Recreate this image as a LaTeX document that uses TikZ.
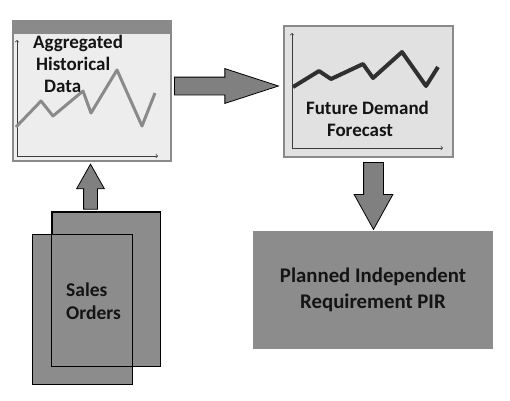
\documentclass[tikz,border=0pt]{standalone}
\usepackage{fontspec}
\setmainfont{Carlito}
\usetikzlibrary{shapes.arrows}
\definecolor{frame}{RGB}{138, 138, 138}
\definecolor{panelA}{RGB}{237, 237, 237}
\definecolor{panelB}{RGB}{225, 225, 225}
\definecolor{boxgray}{RGB}{140, 140, 140}
\definecolor{arrowgray}{RGB}{128, 128, 128}
\definecolor{trendA}{RGB}{138, 138, 138}
\definecolor{trendB}{RGB}{48, 48, 48}
\definecolor{axisgray}{RGB}{60, 60, 60}
\definecolor{ink}{RGB}{20, 20, 20}
\tikzset{
  panel/.style={rectangle, draw=frame, line width=2pt, inner sep=0pt},
  sheet/.style={rectangle, draw=black, fill=boxgray, line width=0.8pt, inner sep=0pt},
  blkarrow/.style={single arrow, draw=black, fill=arrowgray, line width=0.8pt, inner sep=0pt, text depth=0pt, single arrow head indent=0pt, pos=0, anchor=tail},
  chartaxis/.style={<->, color=axisgray, line width=0.7pt},
  boxtext/.style={font=\fontsize{19pt}{22pt}\selectfont\bfseries, text=ink, inner sep=0pt}
}
\begin{document}
\begin{tikzpicture}
\path [use as bounding box, fill=white] (0pt, 0pt) rectangle (510pt, -400pt);
% panels
\node (hist) [panel, fill=panelA, minimum width=158pt, minimum height=140pt] at (92.0pt, -91.0pt) {};
\fill [frame] (hist.north west) rectangle ([yshift=-14pt]hist.north east);
\node (fcst) [panel, fill=panelB, minimum width=169pt, minimum height=131pt] at (368.5pt, -91.5pt) {};
\node (pir) [rectangle, fill=boxgray, minimum width=240pt, minimum height=118pt, inner sep=0pt, align=center, font=\fontsize{20.8pt}{26pt}\selectfont\bfseries, text=ink] at (373.0pt, -290.0pt) {Planned Independent\\Requirement PIR};
\node (ord2) [sheet, minimum width=108pt, minimum height=154pt] at (106.0pt, -289.0pt) {};
\node (ord1) [sheet, minimum width=100pt, minimum height=150pt] at (82.0pt, -309.0pt) {};
\draw [line width=0.8pt] (ord2.south west) rectangle (ord2.north east);
% charts
\draw [chartaxis] (17.0pt, -40.0pt) -- (17.0pt, -156.0pt) -- (158.0pt, -156.0pt);
\draw [trendA, line width=3pt, line join=round] (16pt, -127pt) -- (41pt, -101pt) -- (53pt, -116pt) -- (83pt, -91pt) -- (91pt, -113pt) -- (117pt, -70pt) -- (142pt, -126pt) -- (155pt, -93pt);
\draw [chartaxis] (292.0pt, -33.0pt) -- (292.0pt, -148.0pt) -- (443.0pt, -148.0pt);
\draw [trendB, line width=4pt, line join=round] (293pt, -87pt) -- (319pt, -71pt) -- (331pt, -79pt) -- (363pt, -64pt) -- (373pt, -78pt) -- (402pt, -52pt) -- (426pt, -86pt) -- (438pt, -67pt);
% texts (base = last line)
\node (histtxt) [boxtext, anchor=base west, align=left] at (33.0pt, -92.5pt) {Aggregated\\\hspace*{3pt}Historical\\\hspace*{11pt}Data};
\node (fcsttxt) [boxtext, anchor=base, align=center] at (367.5pt, -136.5pt) {Future Demand\\\hspace*{-15pt}Forecast};
\node (ordtxt) [boxtext, anchor=base west, align=left, font=\fontsize{19.5pt}{23pt}\selectfont\bfseries] at (66.0pt, -319.0pt) {Sales\\Orders};
% block arrows
\path ([xshift=2pt, yshift=5pt]hist.east) -- ([yshift=5pt]fcst.west) node (tofcst) [blkarrow, text height=17pt, minimum height=104pt, single arrow head extend=8.5pt, single arrow tip angle=36] {};
\path ([xshift=5pt, yshift=-4pt]fcst.south) -- ([xshift=0.5pt]pir.north) node (topir) [blkarrow, rotate=-90, text height=19pt, minimum height=67pt, single arrow head extend=9.5pt, single arrow tip angle=58] {};
\path ([xshift=-1.5pt, yshift=2pt]hist.south |- ord2.north) -- ([xshift=-1.5pt]hist.south) node (tohist) [blkarrow, rotate=90, text height=13pt, minimum height=45pt, single arrow head extend=7pt, single arrow tip angle=59] {};
\end{tikzpicture}
\end{document}
